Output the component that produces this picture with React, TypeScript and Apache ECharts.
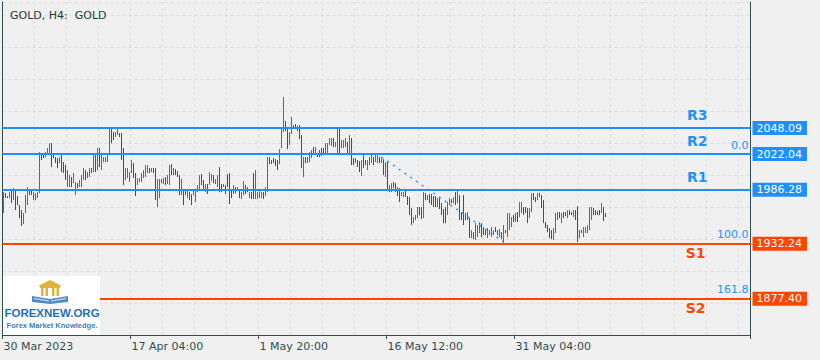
import React, { useEffect, useRef } from "react";
import * as echarts from "echarts";

// ---- data (H4 bars, price extent of each bar) ----
const highs = [
  1984, 1983, 1980, 1984, 1986, 1988, 1986, 1980, 1971, 1966,
  1963, 1981, 1989, 1986, 1986, 1984, 1983, 1984, 2024, 2023,
  2021, 2024, 2028, 2033, 2033, 2021, 2019, 2018, 2019, 2021,
  2014, 2011, 2006, 2001, 1999, 2003, 1994, 1993, 1996, 2001,
  2008, 2006, 2004, 2008, 2008, 2021, 2021, 2028, 2028, 2021,
  2019, 2019, 2021, 2047, 2047, 2044, 2044, 2047, 2043, 2043,
  2028, 2008, 2008, 2004, 2016, 2013, 2003, 1998, 1998, 2003,
  2006, 2011, 2011, 2008, 2008, 2008, 2008, 1997, 1997, 1997,
  1998, 1999, 2001, 2011, 2012, 2008, 2007, 2005, 2001, 1997,
  1987, 1987, 1986, 1984, 1982, 1986, 1987, 1991, 2001, 2002,
  1996, 1992, 1992, 2004, 2002, 2001, 1997, 2001, 2009, 1992,
  1992, 1991, 2002, 2003, 1986, 1991, 1989, 1989, 1986, 1984,
  1995, 1991, 1989, 1984, 1984, 2003, 2006, 1984, 1985, 1984,
  1984, 1989, 2019, 2019, 2016, 2018, 2017, 2016, 2027, 2049,
  2079, 2055, 2049, 2044, 2059, 2051, 2052, 2050, 2051, 2041,
  2019, 2019, 2019, 2024, 2026, 2029, 2029, 2023, 2026, 2028,
  2028, 2033, 2033, 2038, 2038, 2038, 2034, 2048, 2048, 2036,
  2036, 2038, 2034, 2041, 2038, 2018, 2018, 2016, 2015, 2016,
  2021, 2016, 2016, 2019, 2021, 2019, 2021, 2021, 2019, 2018,
  2017, 2014, 2014, 1991, 1993, 1994, 1993, 1989, 1988, 1984,
  1984, 1986, 1980, 1979, 1968, 1959, 1961, 1969, 1969, 1969,
  1984, 1983, 1981, 1982, 1982, 1980, 1980, 1978, 1978, 1973,
  1967, 1969, 1974, 1978, 1977, 1979, 1984, 1986, 1981, 1964,
  1981, 1963, 1964, 1958, 1946, 1944, 1953, 1951, 1954, 1953,
  1949, 1946, 1948, 1946, 1949, 1946, 1949, 1946, 1947, 1944,
  1951, 1946, 1963, 1963, 1959, 1961, 1963, 1964, 1974, 1974,
  1969, 1969, 1968, 1968, 1983, 1983, 1979, 1983, 1983, 1981,
  1976, 1954, 1951, 1948, 1946, 1948, 1963, 1964, 1964, 1963,
  1964, 1964, 1966, 1966, 1964, 1966, 1966, 1970, 1946, 1946,
  1949, 1949, 1951, 1969, 1969, 1968, 1966, 1965, 1966, 1973,
  1969, 1963,
];

const lows = [
  1963, 1978, 1978, 1978, 1973, 1976, 1966, 1971, 1958, 1950,
  1952, 1963, 1971, 1981, 1981, 1976, 1976, 1978, 1983, 2016,
  2018, 2019, 2021, 2023, 2009, 2018, 2013, 2008, 2013, 2004,
  2003, 1996, 1989, 1989, 1989, 1993, 1981, 1988, 1989, 1989,
  1996, 1996, 1998, 1999, 2003, 2004, 2004, 2006, 2009, 2006,
  2014, 2014, 2014, 2023, 2033, 2036, 2039, 2041, 2039, 2016,
  1991, 1996, 1998, 1994, 2003, 1998, 1980, 1991, 1994, 1994,
  1998, 1999, 2003, 2003, 2004, 2003, 1976, 1969, 1978, 1993,
  1992, 1991, 1992, 1991, 2001, 2001, 2001, 1999, 1981, 1981,
  1971, 1981, 1978, 1976, 1971, 1981, 1974, 1984, 1987, 1991,
  1987, 1984, 1982, 1991, 1995, 1993, 1992, 1989, 1984, 1984,
  1989, 1982, 1989, 1972, 1978, 1982, 1983, 1985, 1978, 1977,
  1981, 1982, 1984, 1978, 1977, 1977, 1977, 1977, 1978, 1978,
  1977, 1980, 1984, 2012, 2012, 2013, 2010, 2006, 2012, 2028,
  2044, 2045, 2027, 2031, 2042, 2047, 2048, 2045, 2037, 2008,
  1999, 2013, 2013, 2014, 2018, 2021, 2023, 2019, 2019, 2020,
  2021, 2023, 2023, 2031, 2030, 2029, 2029, 2023, 2023, 2028,
  2028, 2029, 2023, 2023, 2011, 2011, 2013, 2009, 2004, 2000,
  2008, 2011, 2006, 2011, 2013, 2011, 2014, 2013, 2013, 2013,
  2001, 1999, 1986, 1984, 1984, 1988, 1984, 1980, 1974, 1980,
  1979, 1979, 1971, 1961, 1951, 1953, 1956, 1958, 1961, 1957,
  1958, 1976, 1976, 1973, 1971, 1969, 1969, 1969, 1967, 1961,
  1953, 1953, 1961, 1971, 1973, 1973, 1971, 1973, 1956, 1956,
  1951, 1956, 1956, 1938, 1938, 1937, 1936, 1939, 1943, 1939,
  1941, 1941, 1938, 1941, 1939, 1941, 1944, 1941, 1939, 1937,
  1933, 1943, 1939, 1946, 1949, 1954, 1954, 1954, 1959, 1963,
  1961, 1963, 1953, 1958, 1964, 1976, 1974, 1976, 1979, 1968,
  1953, 1948, 1944, 1938, 1937, 1936, 1943, 1956, 1958, 1953,
  1958, 1960, 1958, 1961, 1961, 1959, 1956, 1934, 1938, 1943,
  1939, 1943, 1943, 1946, 1956, 1961, 1961, 1961, 1961, 1963,
  1955, 1959,
];

// G = bullish bar, R = bearish bar
const directions = [
  "GRRGRGRRRR", "GGGRRGGGGR", "RGGGRRRRGR", "RRGGRGGRGG", "GRGGRGRGRG",
  "GGGGRRGGRR", "RGGGGRRGGG", "GGGRGRRGGR", "GRGGRGRRRG", "RRGRRGGGGR",
  "RGRGGRGGRR", "GRRRRGRGRG", "GRRGRRGGGG", "RGGRRRRRGG", "GRRGGRRRRR",
  "GRGGGRGRRR", "RGGGGRGGRG", "GGRGRRGRRG", "RRGGGRGGRG", "RGRGGRRRRG",
  "GRRRRGGGRR", "GRGRRRRGRR", "RRGGRGRGRR", "RRGRGRGGGR", "RRGGGGRRGR",
  "GRGGGRGRGG", "RRRGGRRGRR", "RRRRRGGGRG", "RRGRRGRRGR", "GGGGGRRRRG",
  "RR",
].join("");

const slotCount = 374;
const tickIndex = [0, 64, 128, 192, 256];
const tickLabels = ["30 Mar 2023", "17 Apr 04:00", "1 May 20:00", "16 May 12:00", "31 May 04:00"];

const levelNames = ["R3", "R2", "R1", "S1", "S2"];
const levelPrices = [2048.09, 2022.04, 1986.28, 1932.24, 1877.4];

const fibNames = ["0.0", "100.0", "161.8"];
const fibPrices = [2022.4, 1933.0, 1877.8];
const fibLineStart = [189, 2019];
const fibLineEnd = [251, 1933];

const BLUE = "#1e90ff";
const ORANGE = "#ff4500";
const FRAME = "#2f4f4f";
const GRID = "#dcdcdc";
const UP = "#1c9a1c";
const DOWN = "#ff0000";
const CLEAR = "rgba(0,0,0,0)";

function buildOption() {
  const categories = Array.from({ length: slotCount }, (_, i) => String(i));
  const labelMap = new Map<number, string>(tickIndex.map((ix, k) => [ix, tickLabels[k]]));
  // [index, low, high, up(1)/down(0)]
  const bars = highs.map((h, i) => [i, lows[i], h, directions[i] === "G" ? 1 : 0]);

  const levelLines = levelPrices.map((p, k) => {
    const c = k < 3 ? BLUE : ORANGE;
    return {
      yAxis: p,
      lineStyle: { color: c, width: 2, type: "solid" },
      label: {
        show: true,
        position: "end",
        formatter: p.toFixed(2),
        color: "#ffffff",
        backgroundColor: c,
        padding: [2, 5, 1, 4],
        fontSize: 11,
        fontFamily: "DejaVu Sans",
        distance: 2,
      },
    };
  });
  const levelTexts = levelPrices.map((p, k) => {
    const c = k < 3 ? BLUE : ORANGE;
    return {
      yAxis: p,
      lineStyle: { color: CLEAR, width: 1, type: "solid" },
      label: {
        show: true,
        position: k < 3 ? "insideEndTop" : "insideEndBottom",
        formatter: levelNames[k],
        color: c,
        fontSize: 14,
        fontWeight: "bold",
        fontFamily: "DejaVu Sans",
        distance: k < 3 ? [43, 6] : [45, 2],
      },
    };
  });
  const fibTexts = fibPrices.map((p, k) => ({
    yAxis: p,
    lineStyle: { color: CLEAR, width: 1, type: "solid" },
    label: {
      show: true,
      position: "insideEndTop",
      formatter: fibNames[k],
      color: BLUE,
      fontSize: 11,
      fontFamily: "DejaVu Sans",
      distance: [2, 3],
    },
  }));

  const logoZ = 100;
  const gold = "#e3b23c";

  return {
    animation: false,
    backgroundColor: "#f0f0f0",
    textStyle: { fontFamily: "DejaVu Sans" },
    title: {
      text: "GOLD, H4:  GOLD",
      left: 5,
      top: 5,
      textStyle: { fontSize: 11, fontWeight: "normal", color: "#1e3a3a", fontFamily: "DejaVu Sans" },
    },
    grid: { left: 2.5, right: 69.5, top: 2, bottom: 25 },
    xAxis: {
      type: "category",
      data: categories,
      boundaryGap: true,
      axisLine: { show: true, onZero: false, lineStyle: { color: FRAME, width: 1 } },
      axisTick: {
        show: true,
        interval: (i: number) => labelMap.has(i),
        length: 4,
        lineStyle: { color: FRAME },
      },
      axisLabel: {
        show: true,
        interval: (i: number) => labelMap.has(i),
        formatter: (v: string) => labelMap.get(Number(v)) ?? "",
        align: "left",
        margin: 6,
        color: FRAME,
        fontSize: 11,
        fontFamily: "DejaVu Sans",
      },
      splitLine: {
        show: true,
        interval: (i: number) => i > 0 && i % 16 === 0,
        lineStyle: { color: GRID, type: [3, 3], width: 1 },
      },
    },
    yAxis: [
      {
        type: "value",
        position: "right",
        min: 1841.09,
        max: 2174.09,
        axisLine: { show: true, lineStyle: { color: FRAME } },
        axisTick: { show: false },
        axisLabel: { show: false },
        splitLine: { show: false },
      },
      {
        type: "value",
        position: "left",
        min: 0,
        max: 333,
        interval: 32,
        axisLine: { show: true, onZero: false, lineStyle: { color: FRAME } },
        axisTick: { show: false },
        axisLabel: { show: false },
        splitLine: { show: true, lineStyle: { color: GRID, type: [3, 3], width: 1 } },
      },
    ],
    series: [
      {
        type: "custom",
        name: "GOLD",
        data: bars,
        encode: { x: 0, y: [1, 2] },
        silent: true,
        z: 2,
        renderItem: (params: any, api: any) => {
          const idx = api.value(0);
          const lo = api.coord([idx, api.value(1)]);
          const hi = api.coord([idx, api.value(2)]);
          const up = api.value(3) === 1;
          return {
            type: "line",
            shape: { x1: lo[0], y1: hi[1], x2: lo[0], y2: lo[1] },
            style: { stroke: up ? UP : DOWN, lineWidth: 1 },
          };
        },
      },
      {
        type: "line",
        name: "fib",
        data: [fibLineStart, fibLineEnd],
        showSymbol: false,
        symbol: "none",
        silent: true,
        z: 3,
        lineStyle: { color: BLUE, width: 1.5, type: [2, 5] },
        markLine: {
          silent: true,
          symbol: ["none", "none"],
          animation: false,
          data: [...levelLines, ...levelTexts, ...fibTexts],
        },
      },
    ],
    graphic: [
      { type: "rect", z: logoZ, shape: { x: 3, y: 276, width: 97, height: 59 }, style: { fill: "#ffffff" } },
      { type: "polygon", z: logoZ, shape: { points: [[38, 286], [62, 286], [50, 280]] }, style: { fill: gold } },
      { type: "rect", z: logoZ, shape: { x: 40, y: 286, width: 20, height: 2 }, style: { fill: gold } },
      { type: "rect", z: logoZ, shape: { x: 41, y: 288, width: 2.5, height: 8 }, style: { fill: gold } },
      { type: "rect", z: logoZ, shape: { x: 45.5, y: 288, width: 2.5, height: 8 }, style: { fill: gold } },
      { type: "rect", z: logoZ, shape: { x: 52, y: 288, width: 2.5, height: 8 }, style: { fill: gold } },
      { type: "rect", z: logoZ, shape: { x: 56.5, y: 288, width: 2.5, height: 8 }, style: { fill: gold } },
      { type: "polygon", z: logoZ, shape: { points: [[32, 296], [50, 299], [50, 304], [32, 302]] }, style: { fill: "#4f8ccb" } },
      { type: "polygon", z: logoZ, shape: { points: [[50, 299], [68, 296], [68, 302], [50, 304]] }, style: { fill: "#4f8ccb" } },
      { type: "line", z: logoZ, shape: { x1: 34, y1: 298.5, x2: 49, y2: 301 }, style: { stroke: "#ffffff", lineWidth: 0.8 } },
      { type: "line", z: logoZ, shape: { x1: 51, y1: 301, x2: 66, y2: 298.5 }, style: { stroke: "#ffffff", lineWidth: 0.8 } },
      {
        type: "text",
        z: logoZ,
        x: 52,
        y: 313,
        style: {
          text: "FOREXNEW.ORG",
          fill: "#1f6fb8",
          font: "bold 11.5px 'Liberation Sans'",
          align: "center",
          verticalAlign: "middle",
        },
      },
      {
        type: "text",
        z: logoZ,
        x: 52,
        y: 325,
        style: {
          text: "Forex Market Knowledge.",
          fill: "#3c7fc0",
          font: "bold 7.5px 'Liberation Sans'",
          align: "center",
          verticalAlign: "middle",
        },
      },
    ],
  };
}

export default function App() {
  const ref = useRef<HTMLDivElement>(null);
  useEffect(() => {
    if (!ref.current) return;
    const chart = echarts.init(ref.current, undefined, { renderer: "svg" });
    chart.setOption(buildOption() as any);
    return () => chart.dispose();
  }, []);
  return (
    <div
      ref={ref}
      style={{ position: "fixed", left: 0, top: 0, width: 820, height: 360 }}
    />
  );
}
